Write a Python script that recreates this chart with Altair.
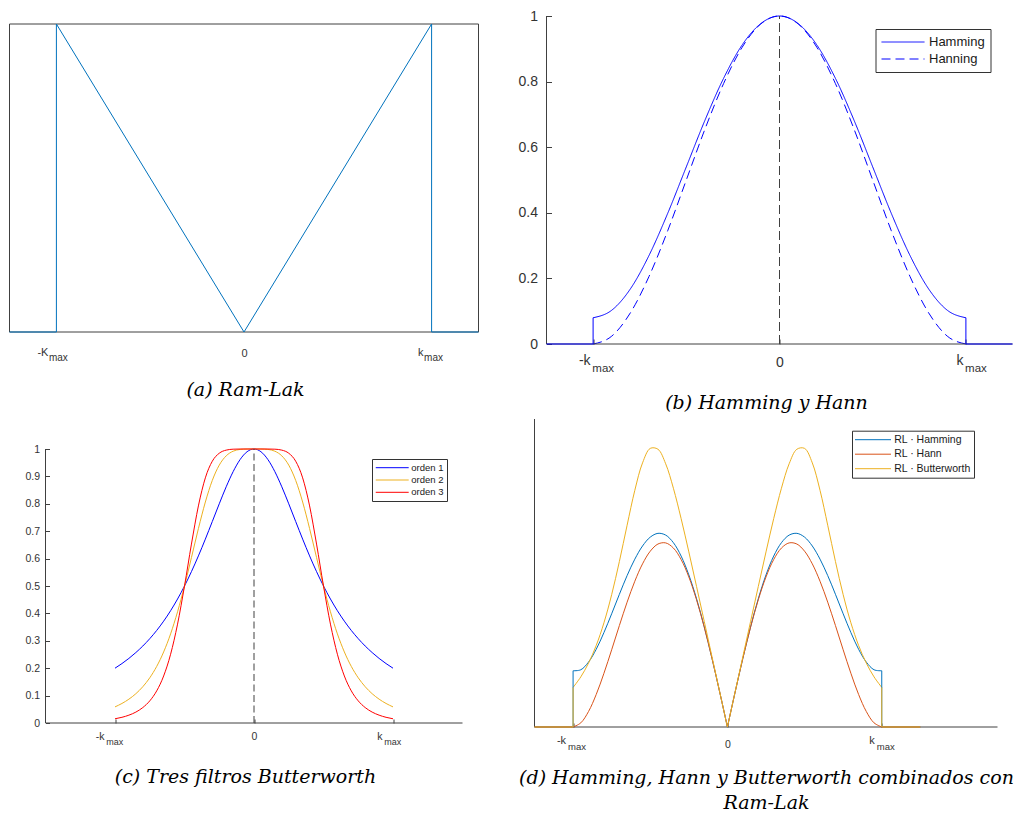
import altair as alt
import pandas as pd

SANS = "Liberation Sans"
SERIF = "DejaVu Serif"
AXIS_C = "#404040"
TEXT_C = "#333333"
LEG_TXT = "#1a1a1a"

# ---------------- data ----------------
# (a) Ram-Lak
ramlak_k = [-1.25, -1.0, -1.0, 0.0, 1.0, 1.0, 1.25]
ramlak_v = [0.0, 0.0, 1.0, 0.0, 1.0, 0.0, 0.0]

# (b) windows, half axis k >= 0 (curves are symmetric)
win_k = [0.0, 0.1, 0.2, 0.3, 0.4, 0.5, 0.6, 0.7, 0.8, 0.9, 1.0]
hamming_v = [1.0, 0.977, 0.912, 0.810, 0.682, 0.540, 0.398, 0.270, 0.168, 0.103, 0.080]
hanning_v = [1.0, 0.976, 0.905, 0.794, 0.655, 0.500, 0.345, 0.206, 0.095, 0.024, 0.0]
b_series = ["Hamming", "Hanning"]

# (c) Butterworth filters, half axis
bw_k = [0.0, 0.05, 0.1, 0.15, 0.2, 0.25, 0.3, 0.35, 0.4, 0.45, 0.5,
        0.55, 0.6, 0.65, 0.7, 0.75, 0.8, 0.85, 0.9, 0.95, 1.0]
orden1_v = [1.0, 0.990, 0.9615, 0.9174, 0.8621, 0.800, 0.7353, 0.6711, 0.6098, 0.5525, 0.500,
            0.4525, 0.4098, 0.3717, 0.3378, 0.3077, 0.2809, 0.2571, 0.2358, 0.2169, 0.200]
orden2_v = [1.0, 0.9999, 0.9984, 0.9920, 0.9750, 0.9412, 0.8853, 0.8064, 0.7094, 0.6038, 0.500,
            0.4058, 0.3253, 0.2593, 0.2065, 0.1649, 0.1324, 0.1069, 0.0870, 0.0713, 0.0588]
orden3_v = [1.0, 1.0, 0.9999, 0.9993, 0.9959, 0.9846, 0.9554, 0.8947, 0.7923, 0.6530, 0.500,
            0.3608, 0.2509, 0.1716, 0.1172, 0.0807, 0.0563, 0.0398, 0.0286, 0.0208, 0.0154]
c_series = ["orden 1", "orden 2", "orden 3"]

# (d) combined with Ram-Lak, half axis
rl_hamming_v = [0.0, 0.0497, 0.0977, 0.1425, 0.1824, 0.2163, 0.2431, 0.2621, 0.2729, 0.2754, 0.2700,
                0.2574, 0.2387, 0.2153, 0.1887, 0.1610, 0.1343, 0.1106, 0.0923, 0.0814, 0.0800]
rl_hann_v = [0.0, 0.0497, 0.0976, 0.1418, 0.1809, 0.2134, 0.2382, 0.2545, 0.2618, 0.2602, 0.2500,
             0.2320, 0.2073, 0.1775, 0.1443, 0.1098, 0.0764, 0.0463, 0.0220, 0.0059, 0.0]
rl_butter_v = [0.0, 0.0500, 0.1000, 0.1500, 0.1998, 0.2490, 0.2964, 0.3395, 0.3743, 0.3950, 0.3962,
               0.3756, 0.3366, 0.2869, 0.2354, 0.1882, 0.1482, 0.1160, 0.0908, 0.0713, 0.0563]
d_series = ["RL \u00b7 Hamming", "RL \u00b7 Hann", "RL \u00b7 Butterworth"]

edge_k = 1.25          # end of the zero region drawn outside +-kmax
kmax_ticks = [-1.0, 1.0]
a_tick_main = ["-K", "k"]
bcd_tick_main = ["-k", "k"]
tick_sub = ["max", "max"]
b_yticks = [0, 0.2, 0.4, 0.6, 0.8, 1]
c_yticks = [0, 0.1, 0.2, 0.3, 0.4, 0.5, 0.6, 0.7, 0.8, 0.9, 1]


# ---------------- helpers ----------------
def mirror(ks, vs):
    left = [(-k, v) for k, v in zip(reversed(ks), reversed(vs)) if k > 0]
    return left + list(zip(ks, vs))


def halves(ks, vs):
    left = [(-k, v) for k, v in zip(reversed(ks), reversed(vs))]
    return left, list(zip(ks, vs))


def segments(lines, color=AXIS_C, dash=None, hide_y=False):
    """lines: list of (k, k2, v, v2) segments in data units"""
    df = pd.DataFrame(lines, columns=["k", "k2", "v", "v2"])
    kw = dict(color=color, strokeWidth=1)
    if dash:
        kw["strokeDash"] = dash
    y = alt.Y("v:Q", axis=None) if hide_y else alt.Y("v:Q")
    return alt.Chart(df).mark_rule(**kw).encode(
        x=alt.X("k:Q"), x2=alt.X2("k2"), y=y, y2=alt.Y2("v2"))


def kmax_labels(h, mains, m_dx, m_dy, m_fs, s_dx, s_dy, s_fs):
    df = pd.DataFrame({"k": kmax_ticks, "m": mains, "s": tick_sub})
    main = alt.Chart(df).mark_text(align="right", baseline="alphabetic", dx=m_dx, font=SANS,
                                   fontSize=m_fs, color=TEXT_C).encode(
        x=alt.X("k:Q"), y=alt.value(h + m_dy), text="m:N")
    sub = alt.Chart(df).mark_text(align="left", baseline="alphabetic", dx=s_dx, font=SANS,
                                  fontSize=s_fs, color=TEXT_C).encode(
        x=alt.X("k:Q"), y=alt.value(h + s_dy), text="s:N")
    return [main, sub]


def caption(text, dx, offset, line_h=24):
    return alt.TitleParams(text=text, orient="bottom", anchor="middle", frame="group", dx=dx,
                           offset=offset, baseline="alphabetic", font=SERIF, fontSize=19,
                           fontStyle="italic", fontWeight="normal", color="#000000",
                           lineHeight=line_h)


def xaxis(fs, pad, tick):
    return alt.Axis(values=[-1, 0, 1], tickCount=3, offset=-tick, tickSize=tick,
                    tickColor=AXIS_C, tickWidth=1, domain=False, grid=False,
                    labelExpr="datum.value == 0 ? '0' : ''", labelFont=SANS,
                    labelFontSize=fs, labelColor=TEXT_C, labelBaseline="alphabetic",
                    labelPadding=pad, labelAngle=0, labelFlush=False, labelOverlap=False)


def yaxis(values, fs, pad, tick, offset):
    # tickCount must not be smaller than the number of values, or Vega thins them
    return alt.Axis(values=values, tickCount=len(values), format="~g", offset=offset,
                    tickSize=tick, tickColor=AXIS_C, tickWidth=1, domain=False, grid=False,
                    labelFont=SANS, labelFontSize=fs, labelColor=TEXT_C,
                    labelPadding=pad, labelFlush=False, labelOverlap=False)


def legend(x, y, pad, length, clip, lab_off, row_pad, fs, **extra):
    return alt.Legend(title=None, orient="none", legendX=x, legendY=y, padding=pad,
                      strokeColor="#333333", fillColor="white", cornerRadius=0,
                      symbolType="stroke", symbolSize=length * length, symbolStrokeWidth=1,
                      clipHeight=clip, labelOffset=lab_off, rowPadding=row_pad,
                      labelFont=SANS, labelFontSize=fs, labelColor=LEG_TXT, **extra)


# ---------------- panel (a) ----------------
A_W, A_H = 469, 316
xsA = alt.Scale(domain=[-1.25, 1.25], nice=False, zero=False)
ysA = alt.Scale(domain=[0, 1], range=[316, 8], nice=False, zero=False)
dfA = pd.DataFrame({"k": ramlak_k, "v": ramlak_v, "i": list(range(len(ramlak_k)))})
boxA = segments([(-1.25, 1.25, 0, 0), (-1.25, 1.25, 1, 1),
                 (-1.25, -1.25, 0, 1), (1.25, 1.25, 0, 1)], hide_y=True)
lineA = alt.Chart(dfA).mark_line(color="#0072BD", strokeWidth=1).encode(
    x=alt.X("k:Q", scale=xsA, title=None,
            axis=alt.Axis(values=[0], tickCount=3, format="~g", ticks=False, tickSize=0,
                          domain=False, grid=False, labelFont=SANS, labelFontSize=11,
                          labelColor=TEXT_C, labelBaseline="alphabetic", labelPadding=24,
                          labelAngle=0, labelFlush=False)),
    y=alt.Y("v:Q", scale=ysA, axis=None),
    order="i:Q",
)
panelA = alt.layer(boxA, lineA, *kmax_labels(A_H, a_tick_main, -8, 24, 11, -7.5, 29, 10)).properties(
    width=A_W, height=A_H, title=caption("(a) Ram-Lak", 1.5, 33))

# ---------------- panel (b) ----------------
B_W, B_H = 466, 328
xsB = alt.Scale(domain=[-1.25, 1.25], nice=False, zero=False)
ysB = alt.Scale(domain=[0, 1], nice=False, zero=False)
rowsB = []
for name, vs in zip(b_series, [hamming_v, hanning_v]):
    for k, v in mirror(win_k, vs):
        rowsB.append({"k": k, "v": v, "series": name})
dfB = pd.DataFrame(rowsB)
rowsBe = []
for seg, pts in (("L", [(-edge_k, 0.0), (-1.0, 0.0), (-1.0, hamming_v[-1])]),
                 ("R", [(1.0, hamming_v[-1]), (1.0, 0.0), (edge_k, 0.0)])):
    for i, (k, v) in enumerate(pts):
        rowsBe.append({"k": k, "v": v, "seg": seg, "i": i})
dfBe = pd.DataFrame(rowsBe)
legB = legend(329, 13, 5.5, 43, 15, 4, 2, 13, symbolStrokeColor="#0000FF")
axesB = segments([(-1.25, -1.25, 0, 1), (-1.25, 1.25, 0, 0)])
edgesB = alt.Chart(dfBe).mark_line(color="#0000FF", strokeWidth=1).encode(
    x=alt.X("k:Q"), y=alt.Y("v:Q"), detail="seg:N", order="i:Q")
curvesB = alt.Chart(dfB).mark_line(strokeWidth=1, interpolate="monotone").encode(
    x=alt.X("k:Q", scale=xsB, axis=xaxis(14, 22, 5), title=None),
    y=alt.Y("v:Q", scale=ysB, axis=yaxis(b_yticks, 14, 9, 5, -5), title=None),
    color=alt.Color("series:N", scale=alt.Scale(domain=b_series, range=["#0000FF", "#0000FF"]),
                    legend=legB),
    strokeDash=alt.StrokeDash("series:N", scale=alt.Scale(domain=b_series, range=[[1, 0], [9, 5]]),
                              legend=legB),
)
zeroB = segments([(0, 0, 0, 1)], color="#404040", dash=[9, 4])
panelB = alt.layer(curvesB, axesB, edgesB, zeroB,
                   *kmax_labels(B_H, bcd_tick_main, -2.5, 21, 14, -0.8, 28, 11.5)).properties(
    width=B_W, height=B_H, title=caption("(b) Hamming y Hann", -13, 34))

# ---------------- panel (c) ----------------
C_W, C_H = 453, 304
xsC = alt.Scale(domain=[-1.5, 1.5], range=[36, 453], nice=False, zero=False)
ysC = alt.Scale(domain=[0, 1], range=[304, 30], nice=False, zero=False)
rowsC = []
for name, vs in zip(c_series, [orden1_v, orden2_v, orden3_v]):
    for k, v in mirror(bw_k, vs):
        rowsC.append({"k": k, "v": v, "series": name})
dfC = pd.DataFrame(rowsC)
legC = legend(362.5, 40, 3.2, 33, 11, 2, 1.3, 9.5)
axesC = segments([(-1.5, -1.5, 0, 1), (-1.5, 1.5, 0, 0)])
curvesC = alt.Chart(dfC).mark_line(strokeWidth=1, interpolate="monotone").encode(
    x=alt.X("k:Q", scale=xsC, axis=xaxis(10.5, 16, 4), title=None),
    y=alt.Y("v:Q", scale=ysC, axis=yaxis(c_yticks, 10.5, 6, 4, -40), title=None),
    color=alt.Color("series:N", scale=alt.Scale(domain=c_series,
                                                range=["#0000FF", "#EDB120", "#FF0000"]),
                    legend=legC),
)
zeroC = segments([(0, 0, 0, 1)], color="#404040", dash=[7, 3.5])
panelC = alt.layer(curvesC, axesC, zeroC,
                   *kmax_labels(C_H, bcd_tick_main, -10.5, 17, 10.5, -8.8, 22, 9)).properties(
    width=C_W, height=C_H, title=caption("(c) Tres filtros Butterworth", 9.5, 36))

# ---------------- panel (d) ----------------
D_W, D_H = 451, 308
xsD = alt.Scale(domain=[-1.25, 1.75], range=[-12, 451], nice=False, zero=False)
ysD = alt.Scale(domain=[0, 0.438], nice=False, zero=False)
rowsD, rowsDe = [], []
for name, vs in zip(d_series, [rl_hamming_v, rl_hann_v, rl_butter_v]):
    left, right = halves(bw_k, vs)
    for side, pts in (("L", left), ("R", right)):
        for k, v in pts:
            rowsD.append({"k": k, "v": v, "series": name, "side": side})
    end = vs[-1]
    for seg, pts in (("L", [(-edge_k, 0.0), (-1.0, 0.0), (-1.0, end)]),
                     ("R", [(1.0, end), (1.0, 0.0), (edge_k, 0.0)])):
        for i, (k, v) in enumerate(pts):
            rowsDe.append({"k": k, "v": v, "series": name, "seg": name + seg, "i": i})
dfD = pd.DataFrame(rowsD)
dfDe = pd.DataFrame(rowsDe)
d_colors = ["#0072BD", "#D95319", "#EDB120"]
legD = legend(305.5, 11.7, 2.5, 36, 13, 2.7, 1.5, 10.5)
axesD = segments([(-1.25, -1.25, 0, 0.438), (-1.25, 1.75, 0, 0)], hide_y=True)
colorD = alt.Color("series:N", scale=alt.Scale(domain=d_series, range=d_colors), legend=legD)
curvesD = alt.Chart(dfD).mark_line(strokeWidth=1, interpolate="catmull-rom").encode(
    x=alt.X("k:Q", scale=xsD, axis=xaxis(10.5, 20, 4), title=None),
    y=alt.Y("v:Q", scale=ysD, axis=None),
    color=colorD, detail="side:N",
)
edgesD = alt.Chart(dfDe).mark_line(strokeWidth=1).encode(
    x=alt.X("k:Q"), y=alt.Y("v:Q", axis=None), color=colorD, detail="seg:N", order="i:Q")
panelD = alt.layer(axesD, curvesD, edgesD,
                   *kmax_labels(D_H, bcd_tick_main, -7, 17, 11, -5, 22.5, 9.5)).properties(
    width=D_W, height=D_H,
    title=caption(["(d) Hamming, Hann y Butterworth combinados con", "Ram-Lak"], -5.5, 33, 25))

# ---------------- figure ----------------
chart = alt.concat(panelA, panelB, panelC, panelD, columns=2,
                   spacing={"row": 75, "column": 68}, bounds="flush", align="all").resolve_scale(
    color="independent", strokeDash="independent"
).properties(
    padding={"left": 7.5, "top": 9, "right": 4, "bottom": 4}
).configure_view(stroke=None)

chart.save("out.html", embed_options={"renderer": "svg", "actions": False})
